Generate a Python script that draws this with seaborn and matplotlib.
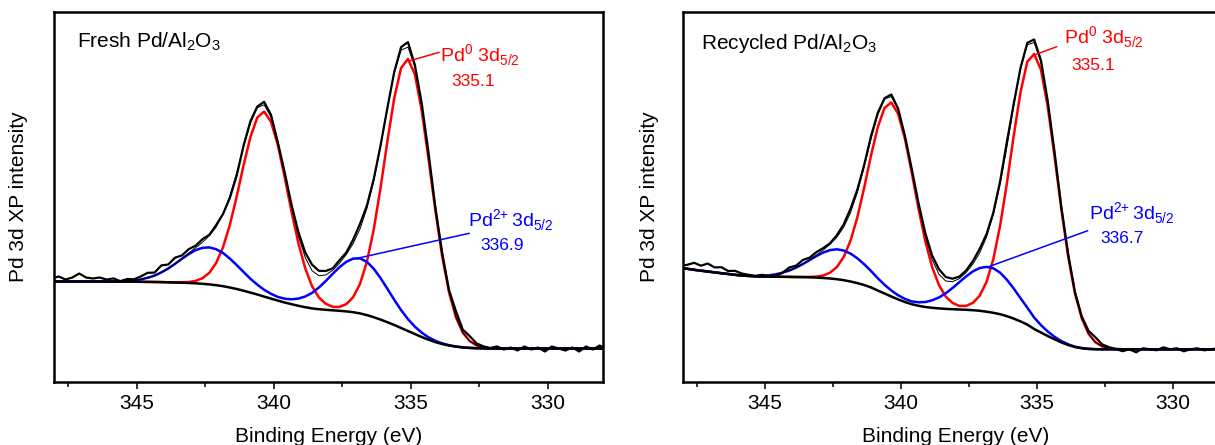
import numpy as np
import matplotlib
matplotlib.use("Agg")
import matplotlib.pyplot as plt
from matplotlib.ticker import MultipleLocator
import seaborn as sns

# binding energy grid (eV), 0.25 eV steps
BE = np.round(np.arange(348.10, 327.80, -0.25), 2)

# ---- Fresh Pd/Al2O3 (values in arbitrary intensity units) ----
FRESH_BG = [100.5] * 8 + [
    100.4, 100.4, 100.4, 100.3, 100.3, 100.2, 100.1, 100.0, 99.9, 99.7,
    99.5, 99.3, 99.0, 98.7, 98.2, 97.6, 96.8, 95.8, 94.5, 93.0,
    91.3, 89.4, 87.5, 85.4, 83.4, 81.4, 79.5, 77.8, 76.2, 74.8,
    73.6, 72.8, 72.2, 71.7, 71.2, 70.6, 69.8, 68.6, 66.9, 64.8,
    62.4, 59.8, 57.0, 54.0, 51.0, 48.0, 45.0, 42.3, 39.9, 38.0,
    36.5, 35.4, 34.6, 34.1, 33.8, 33.6] + [33.5] * 18
FRESH_PD0 = [0] * 18 + [
    0.1, 0.4, 1.0, 2.4, 5.6, 11.6, 22.2, 39.0, 62.7, 92.6,
    125.4, 155.6, 177.0, 185.0, 177.0, 155.6, 125.4, 92.6, 62.7, 39.0,
    22.2, 11.7, 6.0, 3.5, 3.9, 7.3, 15.0, 29.5, 53.1, 87.5,
    131.7, 180.9, 226.9, 260.0, 272.0, 260.0, 226.9, 180.9, 131.7, 87.5,
    53.1, 29.5, 14.9, 6.9, 2.9, 1.1, 0.4, 0.1] + [0] * 16
FRESH_PD2 = [0] * 9 + [
    0.2, 0.4, 0.7, 1.4, 2.4, 4.1, 6.4, 9.7, 13.8, 18.7,
    23.9, 28.9, 33.2, 36.0, 37.0, 36.0, 33.2, 28.9, 23.9, 18.7,
    13.8, 9.9, 6.8, 4.8, 3.7, 3.8, 4.9, 7.2, 10.7, 15.5,
    21.7, 28.8, 36.4, 43.6, 49.6, 53.6, 55.0, 53.3, 48.5, 41.5,
    33.4, 25.2, 17.9, 11.9, 7.4, 4.4, 2.4, 1.3, 0.6, 0.3,
    0.1] + [0] * 22
FRESH_RESID = [
    3, 5, 2, 4, 8, 4, 3, 4, 2, 3, 0, 2, 1, 3, 5, 3, 7, 4, 6, 3,
    4, 2, 3, 1, 2, 0, -2, -3, 1, 2, 1, 3, 2, -1, 1, 2, 4, 5, 6, 5,
    4, 2, 3, 2, 4, 5, 3, 2, 1, 0, 1, 3, 5, 2, 3, 4, 2, 3, 2, 6,
    3, 5, 2, 1, 0, 2, -1, 1, -2, 2, -1, 1, -3, 2, 0, -2, 1, -3, 2, -1,
    3, -1]

# ---- Recycled Pd/Al2O3 ----
REC_BG = [
    114.0, 113.2, 112.2, 111.3, 110.5, 109.6, 108.8, 108.0, 107.2, 106.5,
    106.0, 105.6, 105.4, 105.3, 105.2, 105.2, 105.1, 105.0, 104.9, 104.7,
    104.4, 104.0, 103.5, 102.8, 101.8, 100.5, 98.9, 97.0, 94.6, 91.5,
    88.5, 85.5, 82.6, 80.0, 77.8, 76.2, 75.0, 74.2, 73.6, 73.1,
    72.8, 72.5, 72.2, 71.8, 71.2, 70.3, 69.2, 67.8, 65.8, 63.4,
    60.6, 57.4, 53.0, 49.5, 46.0, 42.7, 39.6, 37.0, 35.0, 33.8,
    33.1, 32.8] + [32.7] * 20
REC_PD0 = [0] * 18 + [
    0.1, 0.4, 1.0, 2.5, 5.9, 12.2, 23.3, 40.9, 65.7, 97.1,
    131.5, 163.2, 185.6, 194.0, 185.6, 163.2, 131.5, 97.1, 65.7, 40.9,
    23.3, 12.3, 6.3, 3.6, 3.9, 7.4, 15.2, 29.8, 53.7, 88.5,
    133.2, 182.9, 229.4, 262.9, 275.0, 262.9, 229.4, 182.9, 133.2, 88.5,
    53.7, 29.8, 15.1, 7.0, 2.9, 1.1, 0.4, 0.1] + [0] * 16
REC_PD2 = [0] * 10 + [
    0.2, 0.4, 0.75, 1.4, 2.5, 4.1, 6.4, 9.4, 13.1, 17.3,
    21.6, 25.5, 28.4, 29.9, 29.7, 27.9, 24.8, 20.8, 16.5, 12.3,
    8.7, 6.0, 4.1, 3.1, 2.8, 3.5, 5.0, 7.5, 10.9, 15.6,
    21.2, 27.3, 33.4, 38.8, 42.8, 44.8, 44.5, 41.5, 36.4, 30.0,
    23.2, 16.9, 11.5, 7.4, 4.5, 2.5, 1.3, 0.7, 0.3, 0.1] + [0] * 22
REC_RESID = [
    2, 4, 7, 5, 8, 5, 6, 3, 4, 2, 1, 0, 1, -1, -2, 0, 3, 2, 4, 2,
    3, 2, 1, 2, 3, 4, 3, 2, 3, 2, 1, 2, 1, 0, 1, 2, 3, 4, 5, 4,
    3, 2, 2, 3, 4, 3, 2, 3, 5, 2, 1, 2, 3, 2, 1, 2, 1, 2, 1, 2,
    3, 5, 2, 1, 0, -2, 0, -3, 1, 0, -1, 2, 0, 1, -2, 0, 1, -1, 0, 1,
    -1, 0]

TITLES = ["Fresh Pd/Al$_\\mathregular{2}$O$_\\mathregular{3}$",
          "Recycled Pd/Al$_\\mathregular{2}$O$_\\mathregular{3}$"]
PD0_LABEL = "Pd$^\\mathregular{0}$ 3d$_\\mathregular{5/2}$"
PD2_LABEL = "Pd$^{\\mathregular{2{+}}}\\,$3d$_\\mathregular{5/2}$"
PD0_POS = ["335.1", "335.1"]
PD2_POS = ["336.9", "336.7"]

RED = "#ff0000"
BLUE = "#0000ff"

sns.set_theme(style="ticks")
plt.rcParams["font.family"] = ["Liberation Sans", "DejaVu Sans"]
plt.rcParams["mathtext.fontset"] = "custom"
plt.rcParams["mathtext.rm"] = "Liberation Sans"
plt.rcParams["text.color"] = "black"
plt.rcParams["axes.labelcolor"] = "black"
plt.rcParams["xtick.color"] = "black"


def draw_panel(ax, bg, pd0, pd2, resid, title, pd0_pos, pd2_pos, txt):
    bg = np.array(bg, dtype=float)
    pd0 = np.array(pd0, dtype=float)
    pd2 = np.array(pd2, dtype=float)
    envelope = bg + pd0 + pd2
    raw = envelope + np.array(resid, dtype=float)

    sns.lineplot(x=BE, y=bg + pd0, ax=ax, color=RED, linewidth=1.8, legend=False)
    sns.lineplot(x=BE, y=bg + pd2, ax=ax, color=BLUE, linewidth=1.8, legend=False)
    sns.lineplot(x=BE, y=bg, ax=ax, color="black", linewidth=1.8, legend=False)
    sns.lineplot(x=BE, y=raw, ax=ax, color="black", linewidth=1.6, legend=False)
    sns.lineplot(x=BE, y=envelope, ax=ax, color="black", linewidth=0.7, legend=False)

    ax.set_xlim(348.02, 327.98)
    ax.set_ylim(0, 370)
    ax.xaxis.set_major_locator(MultipleLocator(5))
    ax.xaxis.set_minor_locator(MultipleLocator(2.5))
    ax.tick_params(axis="x", which="major", direction="out", length=4.8, width=1.1,
                   labelsize=15, pad=4, colors="black")
    ax.tick_params(axis="x", which="minor", direction="out", length=3.3, width=1.1)
    ax.tick_params(axis="y", left=False, labelleft=False)
    for sp in ax.spines.values():
        sp.set_visible(True)
        sp.set_linewidth(1.8)
        sp.set_color("black")

    ax.set_xlabel("Binding Energy (eV)", fontsize=15, labelpad=10)
    ax.set_ylabel("Pd 3d XP intensity", fontsize=15)

    ax.text(txt["title"][0], txt["title"][1], title, transform=ax.transAxes,
            fontsize=15, va="baseline", ha="left")

    # Pd0 annotation
    (x0, y0), (x1, y1) = txt["red_line"]
    ax.plot([x0, x1], [y0, y1], color=RED, linewidth=1.1)
    ax.text(*txt["red_lab"], PD0_LABEL, color=RED, fontsize=14,
            ha="left", va="baseline")
    ax.text(*txt["red_num"], pd0_pos, color=RED, fontsize=12.5,
            ha="center", va="baseline")

    # Pd2+ annotation
    (x0, y0), (x1, y1) = txt["blue_line"]
    ax.plot([x0, x1], [y0, y1], color=BLUE, linewidth=1.1)
    ax.text(*txt["blue_lab"], PD2_LABEL, color=BLUE, fontsize=14,
            ha="left", va="baseline")
    ax.text(*txt["blue_num"], pd2_pos, color=BLUE, fontsize=12.5,
            ha="center", va="baseline")


fig = plt.figure(figsize=(12.15, 4.45), dpi=100)
ax1 = fig.add_axes([54 / 1215, 1 - 382 / 445, 549 / 1215, 370 / 445])
ax2 = fig.add_axes([682.7 / 1215, 1 - 382 / 445, 545.1 / 1215, 370 / 445])

txt_fresh = {
    "title": (0.042, 0.905),
    "red_line": ((335.06, 321), (333.96, 329.7)),
    "red_lab": (333.92, 320.3),
    "red_num": (332.73, 296),
    "blue_line": ((336.95, 123.7), (332.86, 148.7)),
    "blue_lab": (332.92, 155.3),
    "blue_num": (331.68, 132),
}
txt_rec = {
    "title": (0.033, 0.9),
    "red_line": ((335.09, 327), (334.27, 335.3)),
    "red_lab": (334.02, 338.7),
    "red_num": (332.92, 312),
    "blue_line": ((336.77, 115.3), (333.13, 151.3)),
    "blue_lab": (333.09, 162),
    "blue_num": (331.86, 138.7),
}

draw_panel(ax1, FRESH_BG, FRESH_PD0, FRESH_PD2, FRESH_RESID, TITLES[0],
           PD0_POS[0], PD2_POS[0], txt_fresh)
draw_panel(ax2, REC_BG, REC_PD0, REC_PD2, REC_RESID, TITLES[1],
           PD0_POS[1], PD2_POS[1], txt_rec)
ax1.yaxis.set_label_coords(-0.048, 0.5)
ax2.yaxis.set_label_coords(-0.044, 0.5)

fig.savefig("out.png", dpi=100)
